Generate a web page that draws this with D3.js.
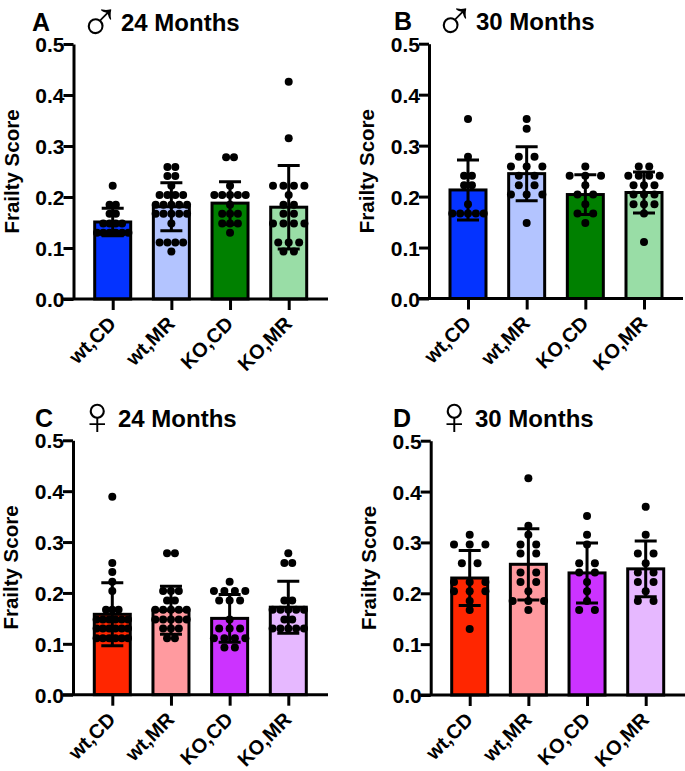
<!DOCTYPE html>
<html>
<head>
  <meta charset="utf-8">
  <script src="https://d3js.org/d3.v7.min.js"></script>
  <style>
    body { margin: 0; background: #fff; }
    text { font-family: "Liberation Sans", Arial, sans-serif; font-weight: bold; fill: #000; }
  </style>
</head>
<body>
  <svg width="685" height="771"></svg>
  <script>
    const categories = ['wt,CD', 'wt,MR', 'KO,CD', 'KO,MR'];
    const yTicks = [0, 0.1, 0.2, 0.3, 0.4, 0.5];

    const maleColors = ['#0433ff', '#b3c4ff', '#008000', '#99dda6'];
    const femaleColors = ['#ff2600', '#ff9a9f', '#cc33ff', '#e6b8ff'];

    const meansA = [0.151, 0.181, 0.188, 0.180];
    const sdsA = [0.027, 0.047, 0.042, 0.082];
    const meansB = [0.213, 0.245, 0.204, 0.208];
    const sdsB = [0.059, 0.053, 0.039, 0.040];
    const meansC = [0.158, 0.166, 0.150, 0.172];
    const sdsC = [0.062, 0.047, 0.047, 0.051];
    const meansD = [0.230, 0.257, 0.240, 0.248];
    const sdsD = [0.054, 0.070, 0.059, 0.055];

    const dotsA = [
      [.222, .185, .185, .167, .167, .148, .148, .148, .148, .130, .130, .130, .130, .130, .130],
      [.259, .259, .241, .241, .222, .204, .204, .204, .204, .185, .185, .185, .185, .185,
       .167, .167, .167, .167, .167, .148, .111, .111, .111, .111, .093],
      [.278, .278, .222, .204, .204, .204, .204, .204, .185, .167, .167, .167, .148, .148, .148, .130],
      [.426, .315, .222, .222, .222, .222, .204, .185, .185, .167, .167,
       .148, .148, .148, .148, .111, .111, .111, .093, .093]
    ];
    const dotsB = [
      [.352, .278, .241, .241, .222, .222, .185, .167, .167, .167, .167, .167],
      [.352, .333, .278, .278, .259, .259, .259, .241, .241, .222, .222, .204, .204, .204, .148],
      [.259, .241, .241, .241, .222, .204, .204, .185, .167, .167, .148],
      [.259, .259, .241, .241, .241, .241, .222, .222, .222, .204, .204, .204, .185, .185, .185, .167, .111]
    ];
    const dotsC = [
      [.389, .259, .241, .222, .204, .167, .167, .167,
       .148, .148, .148, .148, .148, .148, .130, .130, .130, .130, .130, .130,
       .111, .111, .111, .111, .111, .111],
      [.278, .278, .204, .204, .204, .185, .185, .167, .167, .167, .167, .167,
       .148, .148, .148, .148, .148, .130, .130, .130, .111, .111],
      [.222, .204, .204, .204, .204, .185, .185, .185, .148, .130, .130, .130,
       .111, .111, .111, .111, .093, .093],
      [.278, .259, .259, .185, .185, .167, .167, .167, .167, .167, .148, .148, .130, .130, .130, .130, .130]
    ];
    const dotsD = [
      [.315, .296, .296, .296, .259, .259, .222, .222, .222, .204, .204, .204, .185, .167, .130],
      [.426, .333, .315, .296, .296, .278, .278, .241, .241, .222, .222, .204, .185, .185, .185, .167],
      [.352, .315, .296, .259, .259, .241, .241, .222, .204, .185, .167, .167],
      [.370, .315, .278, .278, .259, .241, .241, .222, .222, .204, .185, .185]
    ];

    const svg = d3.select('svg');

    const maxSpread = 31.4;

    // same score = same row, rows share one spacing per group
    const swarm = values => {
      const rows = d3.group(values, d => d);
      const widest = d3.max(rows.values(), r => r.length);
      const step = widest > 1 ? Math.min(maxSpread / 2, maxSpread / (widest - 1)) : 0;
      const out = [];
      rows.forEach((row, v) => {
        row.forEach((_, i) => out.push({ v, off: (i - (row.length - 1) / 2) * step }));
      });
      return out;
    };

    const drawPanel = p => {
      const g = svg.append('g');
      const y = d3.scaleLinear().domain([0, 0.5]).range([p.y0, p.y1]);
      const x = d3.scalePoint().domain(categories).range([p.first, p.last]);

      categories.forEach((c, i) => {
        const cx = x(c);
        g.append('rect')
          .attr('x', cx - 18)
          .attr('width', 36)
          .attr('y', y(p.means[i]))
          .attr('height', y(0) - y(p.means[i]))
          .attr('fill', p.colors[i])
          .attr('stroke', '#000')
          .attr('stroke-width', 3);

        g.append('g').selectAll('circle')
          .data(swarm(p.dots[i]))
          .join('circle')
          .attr('cx', d => cx + d.off)
          .attr('cy', d => y(d.v))
          .attr('r', 4)
          .attr('fill', '#000');

        const hi = y(p.means[i] + p.sds[i]);
        const lo = y(p.means[i] - p.sds[i]);
        g.append('path')
          .attr('d', `M${cx},${hi}V${lo}M${cx - 11},${hi}H${cx + 11}M${cx - 11},${lo}H${cx + 11}`)
          .attr('fill', 'none')
          .attr('stroke', '#000')
          .attr('stroke-width', 3);
      });

      const yAxis = g.append('g')
        .attr('transform', `translate(${p.axisX},0)`)
        .call(d3.axisLeft(y).tickValues(yTicks).tickFormat(d3.format('.1f')).tickSize(10).tickSizeOuter(0));
      yAxis.select('.domain').attr('stroke-width', 3);
      yAxis.selectAll('.tick line').attr('stroke-width', 3);
      yAxis.selectAll('.tick text').attr('font-size', 21).attr('x', -9).attr('dy', '0.36em');

      const xAxis = g.append('g')
        .attr('transform', `translate(0,${p.y0})`)
        .call(d3.axisBottom(x).tickSize(11).tickSizeOuter(0));
      xAxis.select('.domain').remove();
      xAxis.append('line')
        .attr('x1', p.axisX - 10.5)
        .attr('x2', p.xEnd)
        .attr('stroke', '#000')
        .attr('stroke-width', 3);
      xAxis.selectAll('.tick line').attr('stroke-width', 3);
      xAxis.selectAll('.tick text')
        .attr('font-size', 20)
        .attr('text-anchor', 'end')
        .attr('dy', 0)
        .attr('x', 4)
        .attr('y', 26)
        .attr('transform', 'rotate(-45 4 26)');

      g.append('text')
        .attr('transform', `translate(${p.axisX - 55},${(p.y0 + p.y1) / 2}) rotate(-90)`)
        .attr('text-anchor', 'middle')
        .attr('font-size', 20.5)
        .text('Frailty Score');

      g.append('text').attr('x', p.letterX).attr('y', p.titleY).attr('font-size', 25).text(p.letter);
      g.append('text').attr('x', p.titleX).attr('y', p.titleY).attr('font-size', 24).text(p.title);
      g.append('text')
        .attr('x', p.symX).attr('y', p.symY)
        .attr('font-size', p.symSize)
        .style('font-weight', 'normal')
        .text(p.symbol);
    };

    drawPanel({
      letter: 'A', title: '24 Months', symbol: '\u2642', means: meansA, sds: sdsA, dots: dotsA, colors: maleColors,
      axisX: 73.5, y0: 299, y1: 44, first: 112.7, last: 288.7, xEnd: 328,
      letterX: 32, titleX: 121, titleY: 31, symX: 78.6, symY: 40.6, symSize: 56
    });
    drawPanel({
      letter: 'B', title: '30 Months', symbol: '\u2642', means: meansB, sds: sdsB, dots: dotsB, colors: maleColors,
      axisX: 429, y0: 298.5, y1: 43.7, first: 468, last: 644, xEnd: 683,
      letterX: 394, titleX: 476, titleY: 30, symX: 433.6, symY: 39.6, symSize: 56
    });
    drawPanel({
      letter: 'C', title: '24 Months', symbol: '\u2640', means: meansC, sds: sdsC, dots: dotsC, colors: femaleColors,
      axisX: 73, y0: 694.7, y1: 440.3, first: 112.3, last: 288.3, xEnd: 328,
      letterX: 35, titleX: 118, titleY: 427, symX: 77, symY: 434, symSize: 54
    });
    drawPanel({
      letter: 'D', title: '30 Months', symbol: '\u2640', means: meansD, sds: sdsD, dots: dotsD, colors: femaleColors,
      axisX: 430.7, y0: 695, y1: 440.7, first: 469.7, last: 645.7, xEnd: 685,
      letterX: 393, titleX: 475, titleY: 427, symX: 434, symY: 434, symSize: 54
    });
  </script>
</body>
</html>
